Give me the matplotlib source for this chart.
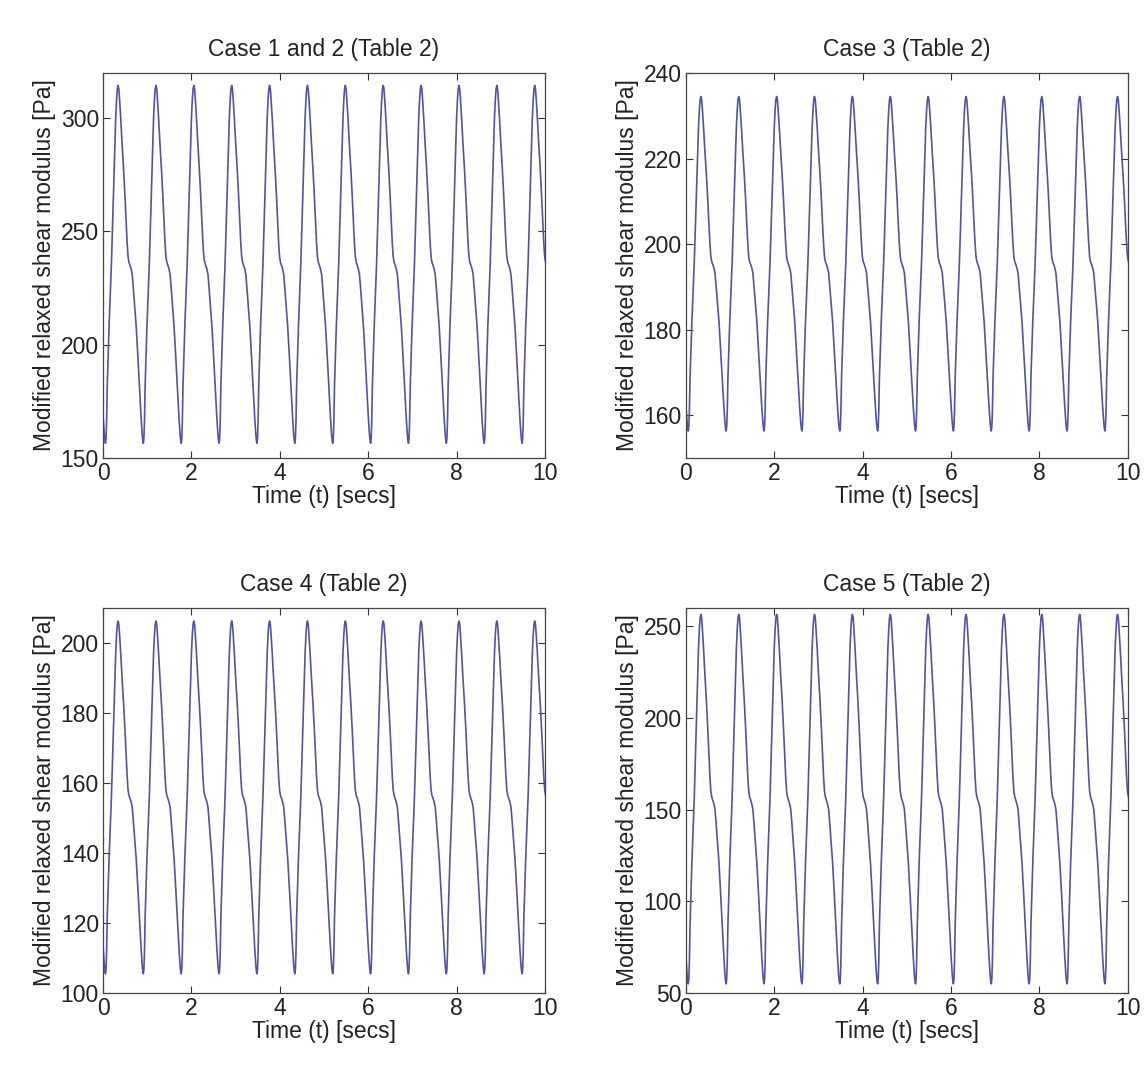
import numpy as np
import matplotlib
matplotlib.use("Agg")
import matplotlib.pyplot as plt

plt.rcParams['font.family'] = ['Liberation Sans', 'DejaVu Sans']

# one cardiac cycle (seconds after the trough)
period = 0.857
first_trough = 0.055
cycle_t = [0.000, 0.012, 0.025, 0.040, 0.060, 0.081, 0.105, 0.135, 0.165, 0.195,
           0.215, 0.231, 0.250, 0.268, 0.285, 0.302, 0.320, 0.345, 0.375, 0.411,
           0.440, 0.465, 0.490, 0.510, 0.530, 0.555, 0.580, 0.605, 0.630, 0.660,
           0.695, 0.735, 0.775, 0.805, 0.830, 0.845]

case12 = [156.5, 158.5, 166.0, 182.0, 195.0, 208.0, 221.0, 236.0, 256.0, 277.0,
          290.0, 300.0, 308.0, 313.0, 314.5, 313.0, 308.0, 300.0, 289.0, 277.0,
          266.0, 255.0, 245.0, 239.0, 236.5, 235.0, 233.5, 231.0, 225.0, 217.0,
          208.0, 194.0, 179.0, 168.0, 160.5, 157.5]
case3 = [156.3, 157.3, 161.0, 168.9, 175.3, 181.8, 188.2, 195.6, 205.6, 216.0,
         222.4, 227.3, 231.3, 233.8, 234.5, 233.8, 231.3, 227.3, 221.9, 216.0,
         210.5, 205.0, 200.1, 197.1, 195.9, 195.2, 194.4, 193.2, 190.2, 186.3,
         181.8, 174.8, 167.4, 162.0, 158.3, 156.8]
case4 = [105.5, 106.8, 111.5, 121.7, 130.0, 138.4, 146.6, 156.2, 169.0, 182.4,
         190.7, 197.0, 202.2, 205.4, 206.3, 205.4, 202.2, 197.0, 190.1, 182.4,
         175.4, 168.3, 161.9, 158.1, 156.5, 155.6, 154.6, 153.1, 149.2, 144.1,
         138.4, 129.4, 119.8, 112.9, 108.0, 106.1]
case5 = [55.0, 57.6, 67.1, 87.4, 104.0, 120.7, 137.2, 156.4, 181.9, 208.7,
         225.3, 238.0, 248.2, 254.7, 256.5, 254.7, 248.2, 238.0, 224.1, 208.7,
         194.6, 180.5, 167.8, 160.2, 157.0, 155.1, 153.1, 150.1, 142.5, 132.2,
         120.7, 102.8, 83.6, 69.7, 60.0, 56.2]

titles = ["Case 1 and 2 (Table 2)", "Case 3 (Table 2)",
          "Case 4 (Table 2)", "Case 5 (Table 2)"]
ylims = [(150, 320), (150, 240), (100, 210), (50, 260)]
yticks = [[150, 200, 250, 300], [160, 180, 200, 220, 240],
          [100, 120, 140, 160, 180, 200], [50, 100, 150, 200, 250]]
series = [case12, case3, case4, case5]

n_cycles = 13
t_all = np.concatenate([first_trough - period + k * period + np.array(cycle_t)
                        for k in range(n_cycles)])

fig = plt.figure(figsize=(11.45, 10.65), dpi=100)
lefts = [0.090, 0.599, 0.090, 0.599]
bottoms = [0.570, 0.570, 0.0676, 0.0676]

for i in range(4):
    ax = fig.add_axes([lefts[i], bottoms[i], 0.386, 0.3615])
    y_all = np.tile(series[i], n_cycles)
    ax.plot(t_all, y_all, color='#5252a8', lw=1.2)
    ax.set_xlim(0, 10)
    ax.set_ylim(*ylims[i])
    ax.set_xticks([0, 2, 4, 6, 8, 10])
    ax.set_yticks(yticks[i])
    ax.tick_params(direction='in', top=True, right=True, labelsize=16.5,
                   length=5, color='#333333', pad=3, labelcolor='#222222')
    for s in ax.spines.values():
        s.set_color('#444444')
        s.set_linewidth(0.9)
    ax.set_title(titles[i], fontsize=16.5, color='#222222', pad=12)
    ax.set_xlabel("Time (t) [secs]", fontsize=16.5, color='#222222', labelpad=0)
    ax.set_ylabel("Modified relaxed shear modulus [Pa]", fontsize=16.5,
                  color='#222222', labelpad=3)

fig.savefig("out.png", dpi=100)
